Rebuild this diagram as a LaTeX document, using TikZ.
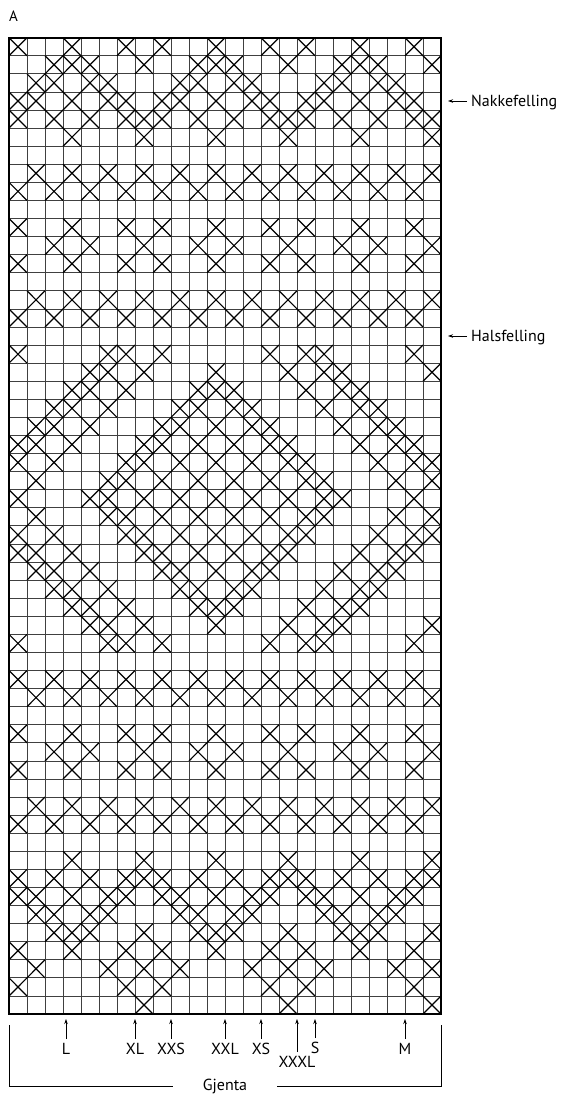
\documentclass[tikz,border=0pt]{standalone}
\usepackage{fontspec}
\setmainfont{PT Sans}
\usetikzlibrary{arrows.meta}

\begin{document}
\begin{tikzpicture}[
		x=1pt, y=-1pt,
		cellline/.style={draw=black!75, line width=0.8pt},
		frame/.style={draw=black, line width=2pt},
		cross/.style={draw=black, line width=1.2pt},
		lbl/.style={font=\fontsize{16}{19}\selectfont, inner sep=4pt, text depth=0pt},
		arr/.style={draw=black, line width=0.8pt, -{Stealth[length=5pt,width=3.5pt]}}
		]
		\useasboundingbox (0,0) rectangle (567,1095);
		\node[font=\fontsize{15}{18}\selectfont, inner sep=0pt] (chartA) at (13.5,16) {A};

		% chart: 24 stitches x 54 rows, row 1 on top
		\begin{scope}[shift={(9,37.7)}, x=18pt, y=-18.08pt]
			\foreach \i in {1,...,23} \draw[cellline] (\i,0) -- (\i,54);
			\foreach \j in {1,...,53} \draw[cellline] (0,\j) -- (24,\j);
			\foreach \r/\cols in {
				1/{1,4,7,9,12,15,17,20,23},
				2/{3,4,5,8,11,12,13,16,19,20,21,24},
				3/{2,3,5,6,10,11,13,14,18,19,21,22},
				4/{1,2,4,6,7,9,10,12,14,15,17,18,20,22,23},
				5/{1,3,5,7,8,9,11,13,15,16,17,19,21,23,24},
				6/{4,8,12,16,20,24},
				8/{2,4,6,8,10,12,14,16,18,20,22,24},
				9/{1,3,5,7,9,11,13,15,17,19,21,23},
				11/{1,4,7,9,12,15,17,20,23},
				12/{3,5,8,11,13,16,19,21,24},
				13/{1,4,7,9,12,15,17,20,23},
				15/{2,4,6,8,10,12,14,16,18,20,22,24},
				16/{1,3,5,7,9,11,13,15,17,19,21,23},
				18/{1,6,7,9,15,17,18,23},
				19/{5,6,8,12,16,18,19,24},
				20/{4,5,7,11,12,13,17,19,20},
				21/{3,4,6,10,11,13,14,18,20,21},
				22/{2,3,5,9,10,12,14,15,19,21,22},
				23/{1,2,4,8,9,11,13,15,16,20,22,23},
				24/{1,3,7,8,10,12,14,16,17,21,23,24},
				25/{2,6,7,9,11,13,15,17,18,22,24},
				26/{1,5,6,8,10,12,14,16,18,19,23},
				27/{2,6,7,9,11,13,15,17,18,22,24},
				28/{1,3,7,8,10,12,14,16,17,21,23,24},
				29/{1,2,4,8,9,11,13,15,16,20,22,23},
				30/{2,3,5,9,10,12,14,15,19,21,22},
				31/{3,4,6,10,11,13,14,18,20,21},
				32/{4,5,7,11,12,13,17,19,20},
				33/{5,6,8,12,16,18,19,24},
				34/{1,6,7,9,15,17,18,23},
				36/{1,3,5,7,9,11,13,15,17,19,21,23},
				37/{2,4,6,8,10,12,14,16,18,20,22,24},
				39/{1,4,7,9,12,15,17,20,23},
				40/{3,5,8,11,13,16,19,21,24},
				41/{1,4,7,9,12,15,17,20,23},
				43/{2,4,6,8,10,12,14,16,18,20,22,24},
				44/{1,3,5,7,9,11,13,15,17,19,21,23},
				46/{4,8,12,16,20,24},
				47/{1,3,5,7,8,9,11,13,15,16,17,19,21,23,24},
				48/{1,2,4,6,7,9,10,12,14,15,17,18,20,22,23},
				49/{2,3,5,6,10,11,13,14,18,19,21,22},
				50/{3,4,5,8,11,12,13,16,19,20,21,24},
				51/{1,4,7,9,12,15,17,20,23},
				52/{2,6,8,10,14,16,18,22,24},
				53/{1,7,9,15,17,23},
				54/{8,16,24}}{
				\foreach \c in \cols
					\draw[cross] (\c-1,\r-1) -- (\c,\r) (\c-1,\r) -- (\c,\r-1);
			}
			\draw[frame] (0,0) rectangle (24,54);
		\end{scope}

		% decrease rows on the right
		\node[lbl, anchor=west] (nakke) at (467,101) {Nakkefelling};
		\node[lbl, anchor=west] (hals) at (467,336) {Halsfelling};
		\coordinate (nakkeTip) at (448,101);
		\coordinate (halsTip) at (448,336);
		\draw[arr] (nakke) -- (nakkeTip);
		\draw[arr] (hals) -- (halsTip);

		% sizes below the chart
		\foreach \nm/\xx/\yy in {L/66/1039, XL/135/1039, XXS/171/1039, XXL/225/1039, XS/261/1039, XXXL/297/1052, S/315/1038, M/405/1039}{
			\node[lbl, anchor=north] (sz\nm) at (\xx,\yy) {\nm};
			\coordinate (tip\nm) at (\xx,1019);
			\draw[arr] (sz\nm) -- (tip\nm);
		}

		% bracket
		\coordinate (brL) at (9,1025);
		\coordinate (brR) at (441,1025);
		\node[lbl, inner xsep=30pt, inner ysep=0pt, text depth=] (gjenta) at (225,1086) {Gjenta};
		\draw[line width=0.8pt] (brL) |- (gjenta.west);
		\draw[line width=0.8pt] (brR) |- (gjenta.east);
	\end{tikzpicture}
\end{document}
